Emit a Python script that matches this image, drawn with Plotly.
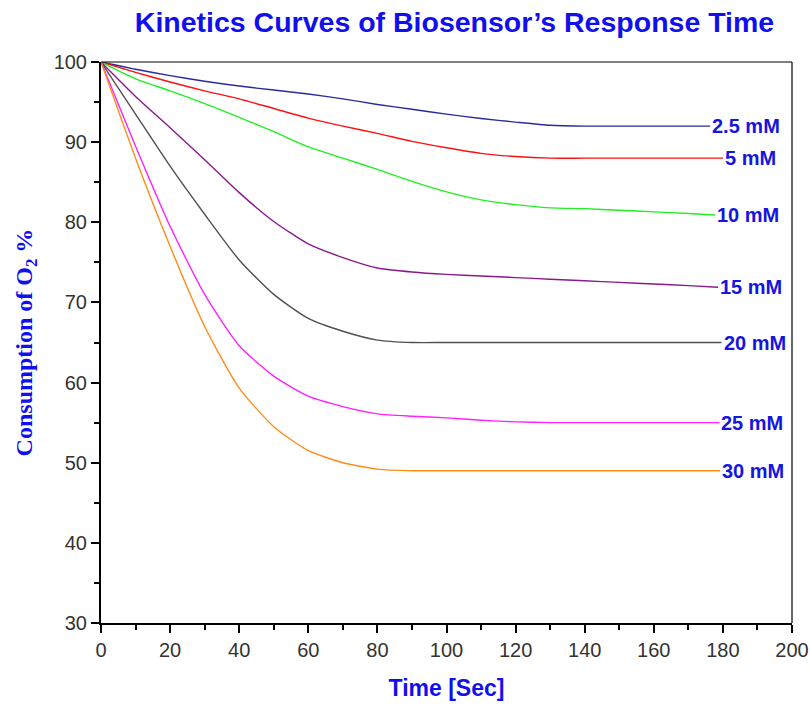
import plotly.graph_objects as go

time_s = [0, 10, 20, 30, 40, 50, 60, 70, 80, 90, 100, 110, 120, 130, 140, 150, 160, 170]
end_time = [176.3, 180.0, 177.7, 178.6, 179.6, 179.0, 179.2]

c_2_5 = [100, 99.1, 98.3, 97.6, 97.0, 96.5, 96.0, 95.4, 94.7, 94.1, 93.5, 92.95, 92.5, 92.1, 92.0, 92.0, 92.0, 92.0, 92.0]
c_5 = [100, 98.7, 97.5, 96.4, 95.4, 94.2, 93.0, 92.0, 91.1, 90.1, 89.3, 88.6, 88.2, 88.0, 88.0, 88.0, 88.0, 88.0, 88.0]
c_10 = [100, 97.9, 96.4, 94.8, 93.1, 91.3, 89.4, 88.0, 86.6, 85.1, 83.8, 82.8, 82.2, 81.8, 81.7, 81.5, 81.3, 81.1, 80.9]
c_15 = [100, 95.7, 91.8, 87.8, 83.7, 80.1, 77.3, 75.6, 74.3, 73.8, 73.5, 73.3, 73.1, 72.9, 72.7, 72.5, 72.3, 72.1, 71.9]
c_20 = [100, 93.5, 87.0, 81.0, 75.3, 71.0, 68.0, 66.4, 65.3, 65.0, 65.0, 65.0, 65.0, 65.0, 65.0, 65.0, 65.0, 65.0, 65.0]
c_25 = [100, 89.5, 79.5, 71.0, 64.6, 60.8, 58.3, 57.0, 56.1, 55.8, 55.6, 55.3, 55.1, 55.0, 55.0, 55.0, 55.0, 55.0, 55.0]
c_30 = [100, 88.0, 77.0, 67.0, 59.3, 54.5, 51.5, 50.0, 49.2, 49.0, 49.0, 49.0, 49.0, 49.0, 49.0, 49.0, 49.0, 49.0, 49.0]

series_labels = ["2.5 mM", "5 mM", "10 mM", "15 mM", "20 mM", "25 mM", "30 mM"]
series_values = [c_2_5, c_5, c_10, c_15, c_20, c_25, c_30]
series_colors = ["#2a2a9a", "#ff1010", "#20f020", "#8a1a8a", "#505050", "#ff20ff", "#ff8c1a"]

x_ticks = list(range(0, 201, 20))
y_ticks = list(range(30, 101, 10))

fig = go.Figure()
for name, vals, col, te in zip(series_labels, series_values, series_colors, end_time):
    xs = time_s + [te]
    fig.add_trace(go.Scatter(x=xs, y=vals, mode="lines", name=name,
                             line=dict(color=col, width=1.4, shape="spline", smoothing=0.6),
                             showlegend=False))
    fig.add_annotation(x=te, y=vals[-1], text="<b>" + name + "</b>", showarrow=False,
                       xanchor="left", yanchor="middle",
                       font=dict(family="Liberation Sans, Arial", size=20, color="#1515e0"))

axis_common = dict(showgrid=False, zeroline=False, showline=True, linecolor="black",
                   linewidth=2, ticks="outside", ticklen=8, tickwidth=2, tickcolor="black",
                   automargin=False,
                   tickfont=dict(family="Liberation Sans, Arial", size=20, color="#333333"))

fig.update_xaxes(range=[0, 200], tickvals=x_ticks,
                 minor=dict(dtick=10, ticklen=5, tickwidth=2, tickcolor="black", ticks="outside"),
                 title=dict(text="<b>Time [Sec]</b>", standoff=20,
                            font=dict(family="Liberation Sans, Arial", size=23, color="#1010ee")),
                 **axis_common)
fig.update_yaxes(range=[30, 100], tickvals=y_ticks,
                 minor=dict(dtick=5, ticklen=5, tickwidth=2, tickcolor="black", ticks="outside"),
                 title=dict(text="<b>Consumption of O<sub>2</sub> %</b>", standoff=14,
                            font=dict(family="Liberation Serif, Times New Roman", size=24, color="#1010ee")),
                 **axis_common)

fig.add_shape(type="line", xref="paper", yref="paper", x0=0, x1=1, y0=1, y1=1,
              line=dict(color="black", width=1.2))
fig.add_shape(type="line", xref="paper", yref="paper", x0=1, x1=1, y0=0, y1=1,
              line=dict(color="black", width=1.2))

fig.update_layout(
    width=810, height=706,
    margin=dict(l=101, r=18, t=62, b=83),
    paper_bgcolor="white", plot_bgcolor="white",
    title=dict(text="<b>Kinetics Curves of Biosensor’s Response Time</b>",
               x=0.5 + 8 / 691, xref="paper", xanchor="center", y=1 - 22 / 706, yanchor="middle",
               font=dict(family="Liberation Sans, Arial", size=28.5, color="#1010ee")),
)

fig.write_html("out.html", config={"displayModeBar": False},
               post_script="document.body.style.margin='0';document.body.style.overflow='hidden';")
